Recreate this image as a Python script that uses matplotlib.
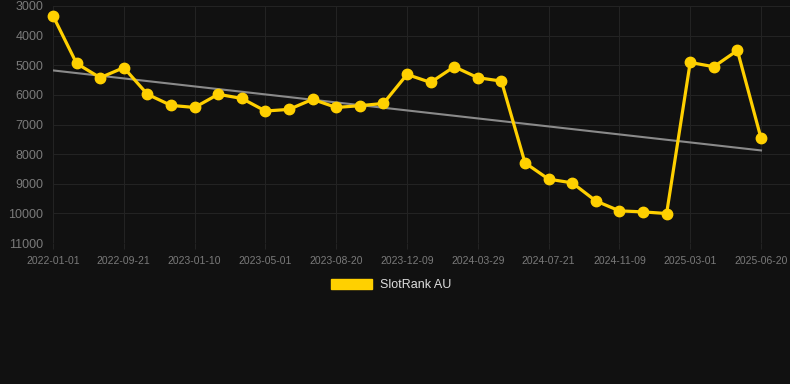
import matplotlib
matplotlib.use("Agg")
import matplotlib.pyplot as plt
import numpy as np

plt.rcParams['font.family'] = ['Liberation Sans', 'DejaVu Sans']

series_name = "SlotRank AU"
ranks = [3330, 4940, 5420, 5080, 5980, 6355, 6425, 5980, 6120, 6545, 6490,
         6150, 6425, 6365, 6290, 5310, 5580, 5050, 5420, 5535, 8295, 8845,
         8970, 9580, 9915, 9950, 10005, 4905, 5050, 4500, 7460]
tick_labels = ["2022-01-01", "2022-09-21", "2023-01-10", "2023-05-01", "2023-08-20",
               "2023-12-09", "2024-03-29", "2024-07-21", "2024-11-09", "2025-03-01",
               "2025-06-20"]
y_ticks = [3000, 4000, 5000, 6000, 7000, 8000, 9000, 10000, 11000]

bg = "#111111"
fig = plt.figure(figsize=(7.9, 3.84), dpi=100, facecolor=bg)
ax = fig.add_axes([53/790, 141/384, 737/790, 237/384], facecolor=bg)

x = np.arange(len(ranks))
coef = np.polyfit(x, ranks, 1)
trend = np.polyval(coef, x)
ax.plot(x, trend, color="#8a8a8a", lw=1.5, zorder=2)
ax.plot(x, ranks, color="#FFD000", lw=2.3, marker="o", ms=7.5, zorder=3, clip_on=False)

ax.set_ylim(11000, 3000)
ax.set_xlim(0, (790 - 53) / 23.6)
ax.set_yticks(y_ticks)
ax.set_yticklabels([str(v) for v in y_ticks])
tick_pos = x[::3]
ax.set_xticks(tick_pos)
ax.set_xticklabels(tick_labels)

ax.grid(True, color="#232323", lw=0.8)
ax.set_axisbelow(True)
for s in ax.spines.values():
    s.set_visible(False)
ax.tick_params(axis="y", length=0, pad=7, labelsize=9, labelcolor="#7a7a7a")
ax.tick_params(axis="x", length=4, color="#232323", pad=5, labelsize=7.5, labelcolor="#7a7a7a")

from matplotlib.patches import Patch
handle = Patch(facecolor="#FFD000", edgecolor="#FFD000")
leg = fig.legend([handle], [series_name], loc="center", bbox_to_anchor=(391/790, 1 - 285/384),
                 frameon=False, handlelength=3.3, handleheight=0.9, fontsize=9,
                 labelcolor="#dddddd", handletextpad=0.6)

fig.savefig("out.png", dpi=100, facecolor=bg)
